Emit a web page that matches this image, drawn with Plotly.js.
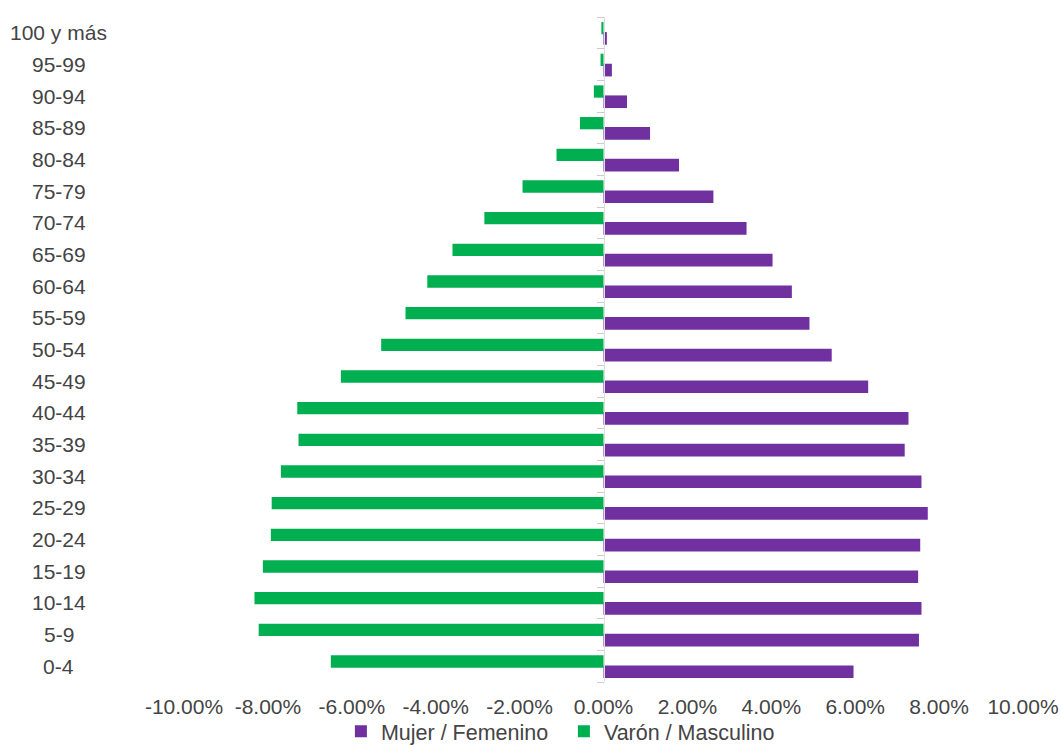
<!DOCTYPE html>
<html>
<head>
<meta charset="utf-8">
<script src="https://cdn.plot.ly/plotly-3.0.1.min.js"></script>
<style>
  html, body { margin: 0; padding: 0; background: #ffffff; }
  #chart { width: 1061px; height: 747px; }
</style>
</head>
<body>
<div id="chart"></div>
<script>
// Age groups, bottom to top
const categories = ['0-4','5-9','10-14','15-19','20-24','25-29','30-34','35-39','40-44','45-49',
  '50-54','55-59','60-64','65-69','70-74','75-79','80-84','85-89','90-94','95-99','100 y más'];

// Share of total population (%)
const mujer = [5.96, 7.52, 7.58, 7.50, 7.55, 7.73, 7.58, 7.18, 7.27, 6.31,
  5.44, 4.91, 4.49, 4.03, 3.41, 2.62, 1.80, 1.11, 0.56, 0.20, 0.08];
const varon = [6.50, 8.22, 8.32, 8.12, 7.93, 7.91, 7.69, 7.27, 7.30, 6.26,
  5.30, 4.72, 4.20, 3.60, 2.84, 1.93, 1.12, 0.56, 0.23, 0.07, 0.05];

const seriesNames = ['Mujer / Femenino', 'Varón / Masculino'];
const xTickVals = [-10, -8, -6, -4, -2, 0, 2, 4, 6, 8, 10];
const xTickText = ['-10.00%', '-8.00%', '-6.00%', '-4.00%', '-2.00%', '0.00%', '2.00%', '4.00%', '6.00%', '8.00%', '10.00%'];

const FONT = 'Liberation Sans, Arial, sans-serif';
const TXT = '#444444';

const traces = [
  {
    type: 'bar', orientation: 'h', name: seriesNames[0],
    y: categories, x: mujer,
    marker: { color: '#7030A0' },
    width: 0.40, offset: -0.376,
    hoverinfo: 'y+x'
  },
  {
    type: 'bar', orientation: 'h', name: seriesNames[1],
    y: categories, x: varon.map(v => -v),
    marker: { color: '#00B050' },
    width: 0.388, offset: -0.047,
    hoverinfo: 'y+x'
  }
];

const annotations = categories.map(c => ({
  xref: 'paper', yref: 'y', x: -0.149, y: c,
  text: c, showarrow: false, xanchor: 'center', yanchor: 'middle',
  font: { family: FONT, size: 21, color: TXT }
}));

const layout = {
  width: 1061, height: 747,
  margin: { l: 184, r: 38, t: 17, b: 65, pad: 0, autoexpand: false },
  paper_bgcolor: '#ffffff', plot_bgcolor: '#ffffff',
  barmode: 'overlay',
  font: { family: FONT, size: 21, color: TXT },
  xaxis: {
    range: [-10, 10], tickmode: 'array', tickvals: xTickVals, ticktext: xTickText,
    showgrid: false, zeroline: false, showline: false, ticks: '',
    ticklabelstandoff: 10,
    automargin: false,
    tickfont: { family: FONT, size: 21, color: TXT }
  },
  yaxis: {
    type: 'category', categoryorder: 'array', categoryarray: categories,
    range: [-0.5, categories.length - 0.5],
    anchor: 'free', position: 0.5,
    showticklabels: false, showgrid: false, zeroline: false,
    automargin: false,
    showline: true, linecolor: '#dddddd', linewidth: 1,
    ticks: 'outside', tickson: 'boundaries', ticklen: 7, tickcolor: '#cccccc', tickwidth: 1
  },
  showlegend: true,
  legend: {
    orientation: 'h', x: 0.187, xanchor: 'left', y: -0.105, yanchor: 'bottom',
    bgcolor: 'rgba(0,0,0,0)',
    font: { family: FONT, size: 21.5, color: TXT },
    traceorder: 'normal', itemwidth: 30, entrywidth: 178
  },
  annotations: annotations
};

Plotly.newPlot('chart', traces, layout, { displayModeBar: false, staticPlot: true });
</script>
</body>
</html>
